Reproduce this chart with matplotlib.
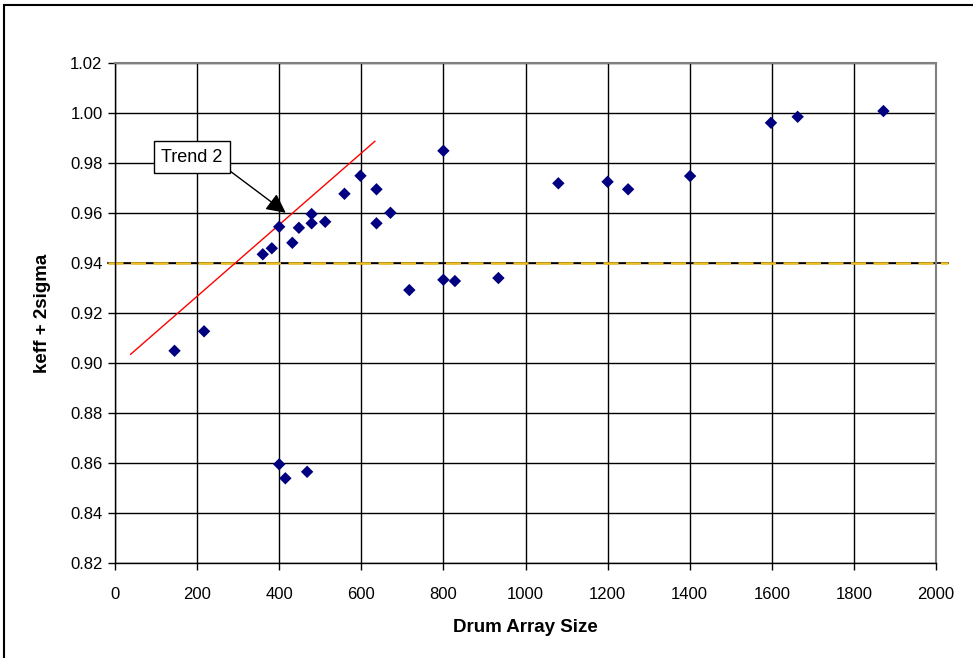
import matplotlib

matplotlib.use("Agg")
import matplotlib.pyplot as plt
from matplotlib.patches import Rectangle

# drum array size vs keff + 2sigma
array_size = [145, 217, 360, 382, 400, 432, 448, 479, 479, 512, 559, 598, 637, 637, 671, 717,
              800, 800, 828, 934, 1080, 1200, 1250, 1401, 1598, 1663, 1872,
              400, 415, 468]
keff = [0.905, 0.9128, 0.9436, 0.946, 0.9546, 0.9482, 0.9542, 0.9597, 0.956, 0.9566, 0.9678,
        0.975, 0.9696, 0.956, 0.9602, 0.9293, 0.985, 0.9334, 0.9329, 0.9341, 0.972, 0.9726,
        0.9696, 0.9749, 0.9962, 0.9986, 1.0009,
        0.8596, 0.854, 0.8566]

trend_x = [38, 633]
trend_y = [0.9036, 0.9888]

limit_value = 0.94
limit_x = [-17, 2030]

x_ticks = list(range(0, 2001, 200))
y_ticks = [0.82, 0.84, 0.86, 0.88, 0.90, 0.92, 0.94, 0.96, 0.98, 1.00, 1.02]

plt.rcParams["font.family"] = ["Liberation Sans", "DejaVu Sans"]

fig = plt.figure(figsize=(9.73, 6.58), dpi=100)
ax = fig.add_axes([115 / 973, 1 - 563.3 / 658, 821 / 973, 500 / 658])

ax.set_xlim(0, 2000)
ax.set_ylim(0.82, 1.02)
ax.set_xticks(x_ticks, [str(v) for v in x_ticks])
ax.set_yticks(y_ticks, [f"{v:.2f}" for v in y_ticks])
ax.grid(True, color="black", linewidth=1.0)
ax.set_axisbelow(True)
ax.tick_params(direction="out", length=5, width=1, labelsize=12, pad=4)
ax.tick_params(axis="x", pad=12)

for side in ["top", "right"]:
    ax.spines[side].set_color("#808080")
    ax.spines[side].set_linewidth(1.5)
for side in ["left", "bottom"]:
    ax.spines[side].set_color("black")
    ax.spines[side].set_linewidth(1.0)

# yellow dashed limit line over the 0.94 gridline
ax.plot(limit_x, [limit_value, limit_value], color="black", linewidth=1.2, clip_on=False, zorder=2)
ax.plot(limit_x, [limit_value, limit_value], color="#f0c020", linewidth=1.8,
        linestyle=(0, (6, 3)), clip_on=False, zorder=2.1)

ax.plot(trend_x, trend_y, color="red", linewidth=1.0, zorder=3)

ax.scatter(array_size, keff, marker="D", s=40, color="#000080", edgecolors="none", zorder=4)

ann = ax.annotate("Trend 2", xy=(416, 0.9602), xycoords="data",
                  xytext=(192, 658 - 157), textcoords="figure pixels",
                  fontsize=13, ha="center", va="center",
                  bbox=dict(boxstyle="square,pad=0.4", facecolor="white", edgecolor="black", linewidth=1),
                  arrowprops=dict(arrowstyle="-|>,head_length=0.9,head_width=0.45", color="black",
                                  linewidth=1, shrinkA=0, shrinkB=0, relpos=(1.0, 0.0)),
                  annotation_clip=False, zorder=5)

ax.set_xlabel("Drum Array Size", fontsize=13.5, fontweight="bold", labelpad=12)
ax.set_ylabel("keff + 2sigma", fontsize=13.5, fontweight="bold", labelpad=14)

# outer chart frame
fig.patches.append(Rectangle((4 / 973, -0.1), 1.2, 1 - 5 / 658 + 0.1, transform=fig.transFigure,
                             fill=False, edgecolor="black", linewidth=1.5))

fig.savefig("out.png", dpi=100)
plt.close(fig)
